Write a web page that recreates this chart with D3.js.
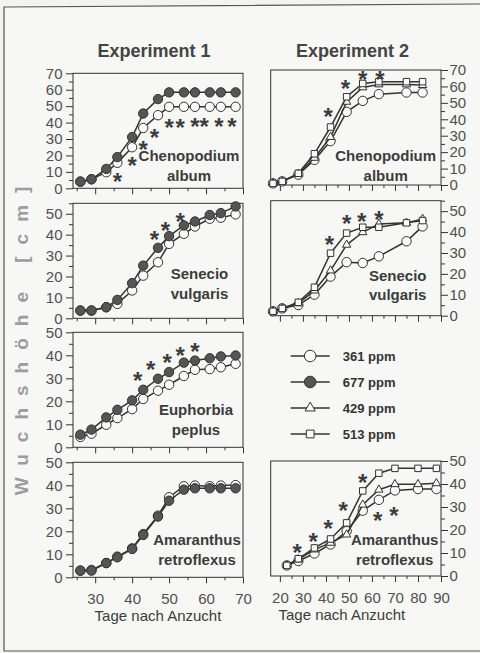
<!DOCTYPE html>
<html>
<head>
<meta charset="utf-8">
<script src="https://cdn.jsdelivr.net/npm/d3@7"></script>
<style>
  body { margin: 0; background: #f3f3f1; overflow: hidden; }
  svg { display: block; }
  text { font-family: "Liberation Sans", Arial, sans-serif; }
</style>
</head>
<body>
<div id="vis"></div>
<script>
// sampling days
const daysExp1 = [26, 29, 33, 36, 40, 43, 47, 50, 54, 57, 61, 64, 68];
const daysExp2 = [17, 21, 28, 35, 42, 49, 56, 63, 75, 82];
const daysExp2Ama = [23, 28, 35, 42, 49, 56, 63, 70, 80, 88];

// experiment 1 (361 / 677 ppm)
const cheno1_361 = [4, 5.5, 9.8, 15.5, 25, 36.7, 44.5, 49.6, 49.6, 49.6, 49.6, 49.6, 49.6];
const cheno1_677 = [4.1, 5.5, 11.8, 19, 31.2, 45.5, 54.3, 58.4, 58.4, 58.4, 58.4, 58.4, 58.4];
const sen1_361 = [3.7, 3.7, 5.3, 6.9, 13.3, 20.4, 26.8, 35.6, 40.4, 43.9, 47.6, 48.1, 49.7];
const sen1_677 = [3.7, 3.7, 5.3, 8.8, 16.8, 25.2, 33.7, 39.3, 44.4, 46.3, 49.4, 50.3, 53.5];
const eup1_361 = [4.5, 5.9, 9.8, 12.7, 16.6, 21, 24.6, 27.2, 31, 33.7, 34, 34.8, 36.3];
const eup1_677 = [5.5, 7.7, 13, 16.3, 20.4, 25, 29.8, 32.7, 36.8, 37.7, 38.7, 39.5, 39.9];
const ama1_361 = [2.9, 3.2, 6.2, 9, 12.6, 18.8, 26.8, 34.8, 39.6, 39.9, 39.6, 39.9, 40.1];
const ama1_677 = [2.9, 2.9, 6.2, 8.7, 12.3, 18.4, 26.4, 33.3, 38.1, 38.7, 38.7, 38.7, 38.7];

// experiment 2 (361 / 429 / 513 ppm)
const cheno2_361 = [1, 2.2, 6.3, 15.3, 26.7, 44.5, 51.2, 55.3, 56.3, 56.3];
const cheno2_429 = [1, 2.2, 6.7, 16.5, 29.2, 50.6, 59.4, 61.2, 61.2, 60.8];
const cheno2_513 = [1, 2.2, 7.1, 19, 35.3, 53.7, 61.8, 62.9, 62.9, 62.9];
const sen2_361 = [2.1, 3.5, 5.1, 10.1, 18.7, 25.6, 25.2, 28.4, 35.6, 42.7];
const sen2_429 = [2.1, 3.5, 5.9, 12, 21.6, 33.9, 39.9, 43.9, 44.4, 46.3];
const sen2_513 = [2.1, 3.5, 6.4, 13.6, 29.9, 39.5, 42.3, 42.3, 44.4, 45.5];
const ama2_361 = [4.6, 6.5, 9.8, 13.7, 19.5, 28.4, 33.1, 37.2, 37.8, 37.8];
const ama2_429 = [4.6, 7.2, 11.5, 14.4, 18, 31, 37.5, 39.9, 39.9, 40.3];
const ama2_513 = [4.6, 7.5, 12.2, 16.1, 23.1, 37, 44.7, 46.8, 46.8, 46.8];

// significance marks [day, height]
const cheno1Stars = [[36, 8], [40, 17.5], [43, 27.5], [46, 34.5], [50, 40.5], [53, 40.5], [57, 41.5], [59.5, 41.5], [63.5, 41.5], [67, 41.5]];
const sen1Stars = [[46, 40.4], [49, 44.7], [53, 49.2]];
const eup1Stars = [[41.5, 31.8], [45, 36.5], [49.5, 39.4], [53, 42.6], [57, 44.1]];
const cheno2Stars = [[41, 45.4], [48.5, 62.3], [56, 67.8], [63.5, 67.8]];
const sen2Stars = [[41.5, 36.8], [49, 47.1], [55.5, 47.9], [63, 48.7]];
const ama2Stars = [[27.5, 12.7], [34.5, 17.6], [41, 23.3], [47.5, 30.9], [56, 43.1], [62.5, 26.5], [69.5, 29]];

const legendLabels = ["361 ppm", "677 ppm", "429 ppm", "513 ppm"];

const W = 480, H = 653;
const plotH = 115;
const cols = [
  { left: 73, width: 170, domain: [24, 70], side: "left" },
  { left: 270.7, width: 170.3, domain: [16, 90], side: "right" }
];

const panels = [
  { col: 0, top: 73.3, yMax: 70, days: daysExp1, series: [["361 ppm", cheno1_361], ["677 ppm", cheno1_677]], stars: cheno1Stars, name: ["Chenopodium", "album"], lx: 116, ly: 88 },
  { col: 0, top: 203.3, yMax: 55, days: daysExp1, series: [["361 ppm", sen1_361], ["677 ppm", sen1_677]], stars: sen1Stars, name: ["Senecio", "vulgaris"], lx: 126.5, ly: 76 },
  { col: 0, top: 332.3, yMax: 50, days: daysExp1, series: [["361 ppm", eup1_361], ["677 ppm", eup1_677]], stars: eup1Stars, name: ["Euphorbia", "peplus"], lx: 123, ly: 83 },
  { col: 0, top: 462.3, yMax: 50, days: daysExp1, series: [["361 ppm", ama1_361], ["677 ppm", ama1_677]], stars: [], name: ["Amaranthus", "retroflexus"], lx: 124, ly: 83, bottom: true },
  { col: 1, top: 70, yMax: 70, days: daysExp2, series: [["361 ppm", cheno2_361], ["429 ppm", cheno2_429], ["513 ppm", cheno2_513]], stars: cheno2Stars, name: ["Chenopodium", "album"], lx: 115, ly: 91 },
  { col: 1, top: 200.7, yMax: 55, days: daysExp2, series: [["361 ppm", sen2_361], ["429 ppm", sen2_429], ["513 ppm", sen2_513]], stars: sen2Stars, name: ["Senecio", "vulgaris"], lx: 127, ly: 80 },
  { col: 1, top: 461, yMax: 50, days: daysExp2Ama, series: [["361 ppm", ama2_361], ["429 ppm", ama2_429], ["513 ppm", ama2_513]], stars: ama2Stars, name: ["Amaranthus", "retroflexus"], lx: 124, ly: 84, bottom: true }
];

const ink = "#333";
const labelColor = "#505050";

const svg = d3.select("#vis").append("svg")
    .attr("width", W)
    .attr("height", H);

// scanned page: lighter sheet with top, left and bottom edges
svg.append("rect")
    .attr("x", 4).attr("y", 5)
    .attr("width", W - 4).attr("height", 646)
    .attr("fill", "#f7f7f5");
svg.append("path")
    .attr("d", `M${W},4 L4,7 L4,651 L${W},651`)
    .attr("fill", "none")
    .attr("stroke", "#555")
    .attr("stroke-width", 1.2);

// draws the marker for a given series
function drawMarker(sel, key, big) {
  const r = big ? 5.8 : 4.7;
  if (key === "361 ppm" || key === "677 ppm") {
    sel.append("circle")
        .attr("r", r)
        .attr("fill", key === "677 ppm" ? "#555" : "#fafafa")
        .attr("stroke", ink)
        .attr("stroke-width", 1);
  } else {
    const type = key === "429 ppm" ? d3.symbolTriangle : d3.symbolSquare;
    const size = key === "429 ppm" ? (big ? 45 : 30) : (big ? 60 : 42);
    sel.append("path")
        .attr("d", d3.symbol().type(type).size(size))
        .attr("fill", "#fafafa")
        .attr("stroke", ink)
        .attr("stroke-width", 1);
  }
}

panels.forEach((p) => {
  const c = cols[p.col];
  const g = svg.append("g").attr("transform", `translate(${c.left},${p.top})`);

  const x = d3.scaleLinear().domain(c.domain).range([0, c.width]);
  const y = d3.scaleLinear().domain([0, p.yMax]).range([plotH, 0]);

  const xMajor = d3.range(Math.ceil(c.domain[0] / 10) * 10, c.domain[1] + 1, 10);
  const xMinor = d3.range(Math.ceil(c.domain[0] / 5) * 5, c.domain[1] + 1, 5).filter((v) => v % 10 !== 0);
  const yMajor = d3.range(0, p.yMax + 1, 10);
  const yMinor = d3.range(5, p.yMax + 1, 10);

  // x axis
  g.append("g")
      .attr("transform", `translate(0,${plotH})`)
      .call(d3.axisBottom(x).tickValues(xMinor).tickSize(3).tickFormat(""));
  g.append("g")
      .attr("transform", `translate(0,${plotH})`)
      .call(d3.axisBottom(x).tickValues(xMajor).tickSize(6).tickPadding(10)
        .tickFormat(p.bottom ? d3.format("d") : ""));

  // y axis
  const axisY = c.side === "left" ? d3.axisLeft : d3.axisRight;
  const shift = c.side === "left" ? null : `translate(${c.width},0)`;
  g.append("g")
      .attr("transform", shift)
      .call(axisY(y).tickValues(yMinor).tickSize(4).tickFormat(""));
  g.append("g")
      .attr("transform", shift)
      .call(axisY(y).tickValues(yMajor).tickSize(7).tickPadding(c.side === "left" ? 3.5 : 1.5));

  g.selectAll(".domain").remove();
  g.selectAll(".tick line").attr("stroke", ink);
  g.selectAll(".tick text")
      .attr("fill", labelColor)
      .style("font-size", "15px");

  // panel box
  g.append("rect")
      .attr("width", c.width)
      .attr("height", plotH)
      .attr("fill", "none")
      .attr("stroke", ink)
      .attr("stroke-width", 1);

  // species label
  const lab = g.append("text")
      .attr("x", p.lx)
      .attr("y", p.ly)
      .attr("text-anchor", "middle")
      .attr("fill", "#3c3c3c")
      .style("font-size", "15px")
      .style("font-weight", "bold");
  p.name.forEach((t, i) => {
    lab.append("tspan").attr("x", p.lx).attr("dy", i === 0 ? 0 : 19.5).text(t);
  });

  const line = d3.line()
      .x((d) => x(d[0]))
      .y((d) => y(d[1]));

  p.series.forEach(([key, vals]) => {
    const pts = p.days.map((d, i) => [d, vals[i]]);
    g.append("path")
        .datum(pts)
        .attr("d", line)
        .attr("fill", "none")
        .attr("stroke", ink)
        .attr("stroke-width", 1.5);
    g.selectAll(null)
        .data(pts)
        .enter()
        .append("g")
        .attr("transform", (d) => `translate(${x(d[0])},${y(d[1])})`)
        .each(function () { drawMarker(d3.select(this), key, false); });
  });

  g.selectAll(null)
      .data(p.stars)
      .enter()
      .append("text")
      .attr("x", (d) => x(d[0]))
      .attr("y", (d) => y(d[1]))
      .attr("dy", "0.6em")
      .attr("text-anchor", "middle")
      .attr("fill", "#3c3c3c")
      .style("font-size", "24px")
      .style("font-weight", "bold")
      .text("*");

  if (p.bottom) {
    g.append("text")
        .attr("x", c.width / 2 + (p.col === 0 ? 0 : -14))
        .attr("y", plotH + 44)
        .attr("text-anchor", "middle")
        .attr("fill", "#3c3c3c")
        .style("font-size", "15px")
        .text("Tage nach Anzucht");
  }
});

// column titles
[["Experiment 1", 154], ["Experiment 2", 352.5]].forEach(([t, cx]) => {
  svg.append("text")
      .attr("x", cx)
      .attr("y", 57)
      .attr("text-anchor", "middle")
      .attr("fill", "#444")
      .style("font-size", "18px")
      .style("font-weight", "bold")
      .text(t);
});

// y axis title
svg.append("text")
    .attr("transform", "translate(28,335) rotate(-90)")
    .attr("text-anchor", "middle")
    .attr("fill", "#9c9c9c")
    .style("font-size", "19px")
    .style("font-weight", "bold")
    .style("letter-spacing", "12px")
    .text("Wuchshöhe [cm]");

// legend
const legend = svg.append("g").attr("transform", "translate(290.7,356)");
legendLabels.forEach((t, i) => {
  const row = legend.append("g").attr("transform", `translate(0,${i * 26})`);
  row.append("line")
      .attr("x1", 0).attr("x2", 39)
      .attr("stroke", ink)
      .attr("stroke-width", 1.4);
  drawMarker(row.append("g").attr("transform", "translate(19.5,0)"), t, true);
  row.append("text")
      .attr("x", 52)
      .attr("dy", "0.35em")
      .attr("fill", "#333")
      .style("font-size", "13px")
      .style("font-weight", "bold")
      .text(t);
});
</script>
</body>
</html>
